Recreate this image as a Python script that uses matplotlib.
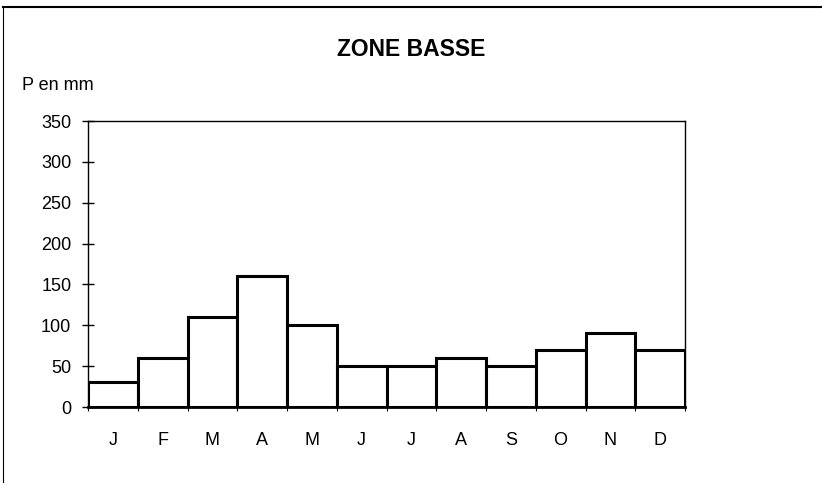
import matplotlib
matplotlib.use("Agg")
import matplotlib.pyplot as plt
from matplotlib.lines import Line2D
import numpy as np

# %% data
months = ["J", "F", "M", "A", "M", "J", "J", "A", "S", "O", "N", "D"]
precip = [30, 60, 110, 160, 100, 50, 50, 60, 50, 70, 90, 70]
yticks = [0, 50, 100, 150, 200, 250, 300, 350]

plt.rcParams["font.family"] = ["Liberation Sans", "DejaVu Sans"]

W, H = 822, 483
fig = plt.figure(figsize=(W / 100, H / 100), dpi=100)
ax = fig.add_axes([88 / W, 1 - 407 / H, (685 - 88) / W, (407 - 121) / H])

x = np.arange(len(months))
ax.bar(x, precip, width=1.0, color="white", edgecolor="black", linewidth=2.2, zorder=3)

ax.set_xlim(-0.5, len(months) - 0.5)
ax.set_ylim(0, 350)
ax.set_yticks(yticks)
ax.set_yticklabels([str(v) for v in yticks], fontsize=13)
ax.set_xticks(x)
ax.set_xticklabels(months, fontsize=13)
ax.set_xticks(np.arange(-0.5, len(months), 1.0), minor=True)
ax.tick_params(axis="x", which="major", length=0, pad=18)
ax.tick_params(axis="x", which="minor", length=3, width=0.8, direction="out")
ax.tick_params(axis="y", direction="inout", length=8, width=1, pad=8)

for side in ["top", "right", "left"]:
    ax.spines[side].set_linewidth(1.0)
ax.spines["bottom"].set_linewidth(2.0)
ax.spines["bottom"].set_zorder(4)

# titles
fig.text(0.5, 1 - 50 / H, "ZONE BASSE", ha="center", va="center",
         fontsize=16.5, fontweight="bold")
fig.text(22 / W, 1 - 85 / H, "P en mm", ha="left", va="center", fontsize=13)

# outer frame (top and left edges of the scanned chart box)
fig.add_artist(Line2D([3 / W, 1.0], [1 - 7 / H, 1 - 7 / H], color="black", linewidth=1.5))
fig.add_artist(Line2D([3 / W, 3 / W], [0.0, 1 - 7 / H], color="black", linewidth=0.8))

fig.savefig("out.png", dpi=100)
